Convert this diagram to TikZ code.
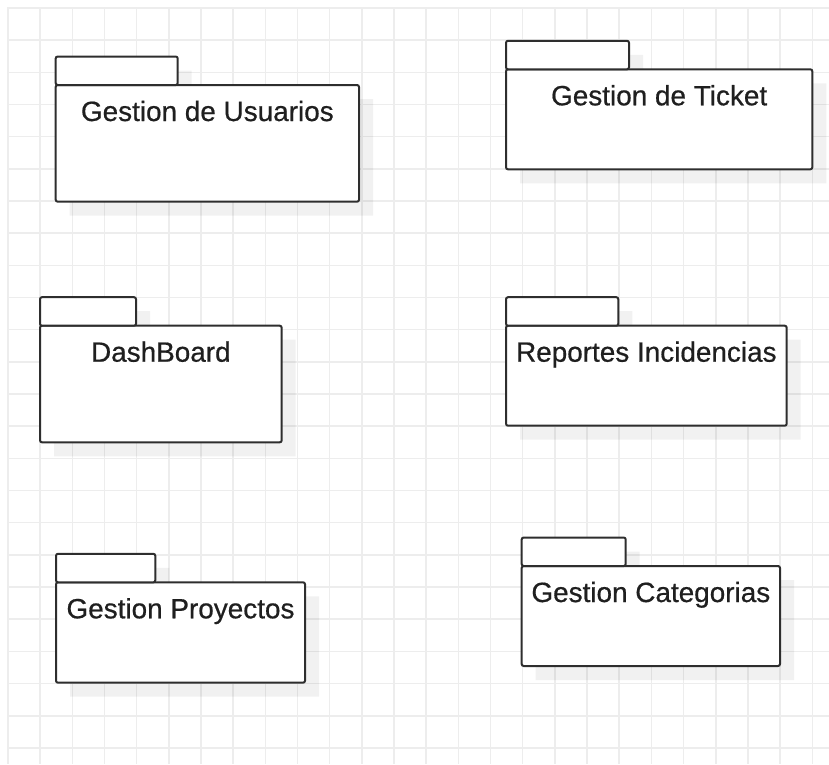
\documentclass[tikz,border=0pt]{standalone}
\usepackage{fontspec}
\setmainfont{Liberation Sans}
\newfontfamily\titulofont[FakeBold=0.6]{Liberation Sans}
\usetikzlibrary{positioning}

\pgfdeclarelayer{fondo}
\pgfdeclarelayer{sombras}
\pgfsetlayers{fondo,sombras,main}

\tikzset{
	paquete/.style={draw=black!82, line width=2pt, fill=white, rounded corners=2pt, anchor=north west, inner sep=0pt, outer sep=0pt},
	pestana/.style={draw=black!82, line width=2pt, fill=white, rounded corners=2pt},
	titulo/.style={anchor=base, inner sep=0pt, font=\titulofont\fontsize{27.9}{32}\selectfont, text=black!88},
	sombra/.style={fill=black, opacity=0.055},
	rejilla/.style={draw=black!7, line width=1.5pt}
}

\begin{document}
\begin{tikzpicture}[x=1pt, y=-1pt]
			\useasboundingbox (0,0) rectangle (829,764);
			
			%Rejilla
			\begin{pgfonlayer}{fondo}
			\foreach \i in {0,...,25} \draw[rejilla] (8+32.17*\i,7) -- (8+32.17*\i,764);
			\foreach \j in {0,...,23} \draw[rejilla] (8,8+32.17*\j) -- (829,8+32.17*\j);
			\end{pgfonlayer}
			
			%Paquete Gestion de Usuarios
			\def\w{122}
			\node[paquete, minimum width=303.3pt, minimum height=116.7pt] (usuarios) at (55.7,85) {};
			\draw[pestana] (usuarios.north west) rectangle ++(\w,-28.5);
			\node[titulo] (usuariosT) at ([yshift=-36pt]usuarios.north) {Gestion de Usuarios};
			\begin{pgfonlayer}{sombras}
			\fill[sombra] ([shift={(14,14)}]usuarios.north west) rectangle ([shift={(14,14)}]usuarios.south east)
				([shift={(14,-14.5)}]usuarios.north west) rectangle ++(\w,28.5);
			\end{pgfonlayer}
			
			%Paquete Gestion de Ticket
			\def\w{123}
			\node[paquete, minimum width=306.3pt, minimum height=100pt] (ticket) at (506,69.3) {};
			\draw[pestana] (ticket.north west) rectangle ++(\w,-28.5);
			\node[titulo] (ticketT) at ([yshift=-36pt]ticket.north) {Gestion de Ticket};
			\begin{pgfonlayer}{sombras}
			\fill[sombra] ([shift={(14,14)}]ticket.north west) rectangle ([shift={(14,14)}]ticket.south east)
				([shift={(14,-14.5)}]ticket.north west) rectangle ++(\w,28.5);
			\end{pgfonlayer}
			
			%Paquete DashBoard
			\def\w{96}
			\node[paquete, minimum width=241.7pt, minimum height=116.6pt] (dashboard) at (40,325.7) {};
			\draw[pestana] (dashboard.north west) rectangle ++(\w,-28.5);
			\node[titulo] (dashboardT) at ([yshift=-36pt]dashboard.north) {DashBoard};
			\begin{pgfonlayer}{sombras}
			\fill[sombra] ([shift={(14,14)}]dashboard.north west) rectangle ([shift={(14,14)}]dashboard.south east)
				([shift={(14,-14.5)}]dashboard.north west) rectangle ++(\w,28.5);
			\end{pgfonlayer}
			
			%Paquete Reportes Incidencias
			\def\w{112.3}
			\node[paquete, minimum width=280.7pt, minimum height=100pt] (reportes) at (506,325.7) {};
			\draw[pestana] (reportes.north west) rectangle ++(\w,-28.5);
			\node[titulo] (reportesT) at ([yshift=-36pt]reportes.north) {Reportes Incidencias};
			\begin{pgfonlayer}{sombras}
			\fill[sombra] ([shift={(14,14)}]reportes.north west) rectangle ([shift={(14,14)}]reportes.south east)
				([shift={(14,-14.5)}]reportes.north west) rectangle ++(\w,28.5);
			\end{pgfonlayer}
			
			%Paquete Gestion Proyectos
			\def\w{99.3}
			\node[paquete, minimum width=249pt, minimum height=100.4pt] (proyectos) at (56,582.3) {};
			\draw[pestana] (proyectos.north west) rectangle ++(\w,-28.5);
			\node[titulo] (proyectosT) at ([yshift=-36pt]proyectos.north) {Gestion Proyectos};
			\begin{pgfonlayer}{sombras}
			\fill[sombra] ([shift={(14,14)}]proyectos.north west) rectangle ([shift={(14,14)}]proyectos.south east)
				([shift={(14,-14.5)}]proyectos.north west) rectangle ++(\w,28.5);
			\end{pgfonlayer}
			
			%Paquete Gestion Categorias
			\def\w{104}
			\node[paquete, minimum width=258.3pt, minimum height=100pt] (categorias) at (521.7,566) {};
			\draw[pestana] (categorias.north west) rectangle ++(\w,-28.5);
			\node[titulo] (categoriasT) at ([yshift=-36pt]categorias.north) {Gestion Categorias};
			\begin{pgfonlayer}{sombras}
			\fill[sombra] ([shift={(14,14)}]categorias.north west) rectangle ([shift={(14,14)}]categorias.south east)
				([shift={(14,-14.5)}]categorias.north west) rectangle ++(\w,28.5);
			\end{pgfonlayer}
\end{tikzpicture}
\end{document}
